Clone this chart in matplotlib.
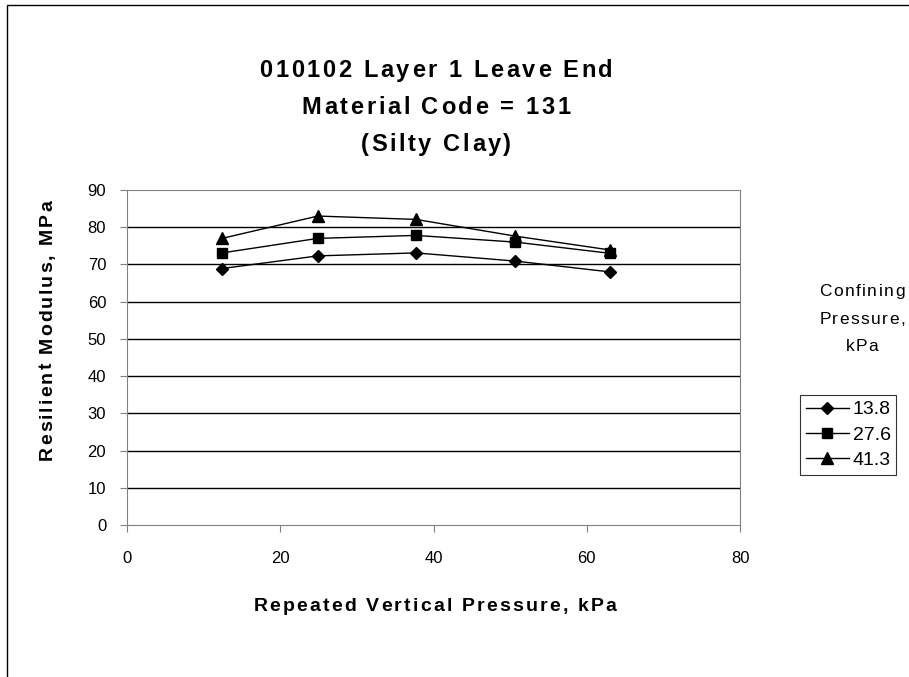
import matplotlib.pyplot as plt
from matplotlib.patches import Rectangle

plt.rcParams['font.family'] = ['Liberation Sans', 'DejaVu Sans']

# data
pressao = [12.4, 24.9, 37.7, 50.7, 63.0]
mr_138 = [68.9, 72.3, 73.1, 70.9, 68.0]
mr_276 = [73.1, 77.0, 77.8, 76.0, 73.0]
mr_413 = [77.0, 83.0, 82.1, 77.6, 73.9]
legendas = ["13.8", "27.6", "41.3"]

W, H = 909, 677


def texto_espacado(fig, xc, yb, s, esp, rot=0, **kw):
    # texto com espaçamento entre letras (centro xc, linha de base yb, em pixels)
    r = fig.canvas.get_renderer()
    larg = []
    for ch in s:
        if ch == ' ':
            larg.append(0.28 * kw['fontsize'] * fig.dpi / 72)
        else:
            t = fig.text(0, 0, ch, **kw)
            larg.append(t.get_window_extent(r).width)
            t.remove()
    total = sum(larg) + esp * (len(s) - 1)
    pos = -total / 2
    for ch, w in zip(s, larg):
        c = pos + w / 2
        if ch != ' ':
            if rot == 0:
                fig.text((xc + c) / W, 1 - yb / H, ch, ha='center', va='baseline', **kw)
            else:
                fig.text(xc / W, 1 - (yb - c) / H, ch, ha='center', va='baseline',
                         rotation=90, rotation_mode='anchor', **kw)
        pos += w + esp


fig = plt.figure(figsize=(W / 100, H / 100), dpi=100)
ax = fig.add_axes([127/W, 1 - 525/H, (740 - 127)/W, (525 - 190)/H])

ax.plot(pressao, mr_138, color='black', lw=1, marker='D', ms=6, label=legendas[0])
ax.plot(pressao, mr_276, color='black', lw=1, marker='s', ms=7, label=legendas[1])
ax.plot(pressao, mr_413, color='black', lw=1, marker='^', ms=8, label=legendas[2])

ax.set_xlim(0, 80)
ax.set_ylim(0, 90)
ax.set_xticks(range(0, 81, 20))
ax.set_yticks(range(0, 91, 10))
for y in range(10, 81, 10):
    ax.axhline(y, color='black', lw=1, zorder=0)
for s in ax.spines.values():
    s.set_color('#808080')
ax.tick_params(colors='black', labelsize=12, length=5)
ax.tick_params(axis='both', color='#808080')
ax.tick_params(axis='x', pad=14)
ax.tick_params(axis='y', pad=10)

titulo = ["010102 Layer 1 Leave End", "Material Code = 131", "(Silty Clay)"]
for i, t in enumerate(titulo):
    texto_espacado(fig, 436, 77 + 37 * i, t, 2.6, fontsize=17, fontweight='bold')

texto_espacado(fig, 435, 611, "Repeated Vertical Pressure, kPa", 2.2,
               fontsize=14, fontweight='bold')
texto_espacado(fig, 52, 330, "Resilient Modulus, MPa", 2.0, rot=90,
               fontsize=14, fontweight='bold')

for i, t in enumerate(["Confining", "Pressure,", "kPa"]):
    texto_espacado(fig, 862, 296 + 27.5 * i, t, 1.4, fontsize=12.5)

leg = fig.legend(loc='upper left', bbox_to_anchor=(800/W, 1 - 395/H),
                 frameon=True, fontsize=14, handlelength=2.2, borderpad=0.3,
                 handletextpad=0.2, labelspacing=0.4, fancybox=False, borderaxespad=0)
leg.get_frame().set_edgecolor('black')
leg.get_frame().set_linewidth(0.8)

# moldura externa
fig.patches.append(Rectangle((7/W, -0.1), 1.1, 1.1 - 5/H, transform=fig.transFigure,
                             fill=False, edgecolor='black', lw=1))

fig.savefig("out.png", dpi=100)
